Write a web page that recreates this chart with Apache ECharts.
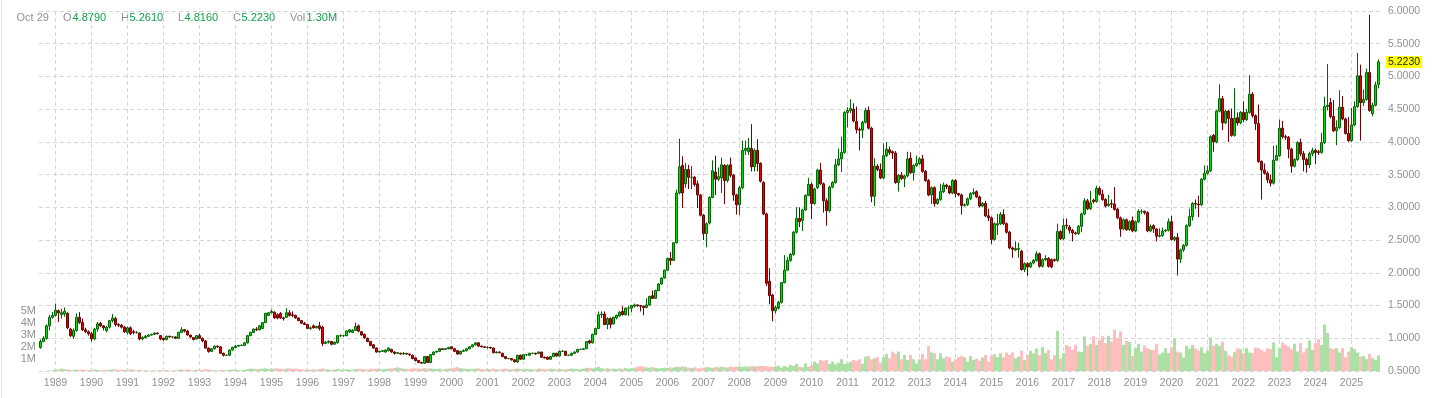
<!DOCTYPE html>
<html>
<head>
<meta charset="utf-8">
<title>Monthly candles 1988-2025</title>
<script src="https://cdn.jsdelivr.net/npm/echarts@6/dist/echarts.min.js"></script>
<style>
  html, body { margin: 0; padding: 0; background: #fff; }
  #chart { position: absolute; left: 0; top: 0; width: 1436px; height: 398px; }
  .edge { position: absolute; left: 1px; top: 0; width: 1px; height: 398px; background: #e2e3e8; }
</style>
</head>
<body>
<div id="chart"></div>
<div class="edge"></div>
<script>
// first month of the series
const firstYear = 1988;
const firstMonth = 8;
const headerDate = 'Oct 29';

// monthly candles, [open, close, low, high], Aug 1988 .. Oct 2025
const ohlc = [
  [0.86,0.95,0.84,0.98],[0.95,1.00,0.94,1.03],[1.00,1.19,0.98,1.21],[1.19,1.32,1.12,1.36],[1.32,1.35,1.30,1.40],
  // 1989
  [1.35,1.43,1.33,1.53],[1.42,1.39,1.25,1.44],[1.36,1.39,1.30,1.45],[1.37,1.41,1.33,1.47],[1.38,1.16,1.14,1.40],[1.14,1.04,1.02,1.16],
  [1.03,1.12,0.99,1.15],[1.12,1.32,1.10,1.38],[1.32,1.24,1.22,1.40],[1.24,1.13,1.11,1.30],[1.13,1.10,1.08,1.16],[1.10,1.07,1.04,1.12],
  // 1990
  [1.07,0.99,0.95,1.10],[0.99,1.14,0.97,1.16],[1.14,1.22,1.10,1.25],[1.23,1.19,1.17,1.25],[1.19,1.16,1.12,1.20],[1.12,1.17,1.09,1.19],
  [1.17,1.27,1.15,1.28],[1.27,1.31,1.24,1.37],[1.30,1.21,1.18,1.33],[1.21,1.20,1.17,1.23],[1.20,1.17,1.15,1.22],[1.17,1.10,1.08,1.19],
  // 1991
  [1.09,1.16,1.06,1.18],[1.16,1.07,1.05,1.18],[1.10,1.09,1.06,1.13],[1.09,1.09,1.07,1.11],[1.08,0.99,0.97,1.09],[0.99,1.01,0.97,1.03],
  [1.01,1.03,1.00,1.05],[1.03,1.05,1.02,1.06],[1.05,1.06,1.04,1.07],[1.06,1.08,1.05,1.09],[1.08,1.07,1.06,1.09],[1.04,0.99,0.97,1.05],
  // 1992
  [1.00,0.98,0.96,1.01],[0.98,1.03,0.97,1.04],[1.03,1.02,1.01,1.04],[1.02,1.02,1.00,1.03],[1.02,1.00,0.99,1.03],[1.00,1.09,0.99,1.10],
  [1.09,1.13,1.08,1.17],[1.13,1.11,1.09,1.14],[1.11,1.05,1.04,1.13],[1.05,1.02,1.00,1.05],[1.01,0.98,0.97,1.02],[0.99,1.04,0.98,1.05],
  // 1993
  [1.04,1.00,0.99,1.07],[1.00,0.96,0.94,1.01],[0.96,0.85,0.84,0.97],[0.85,0.80,0.78,0.86],[0.80,0.84,0.79,0.85],[0.84,0.88,0.83,0.89],
  [0.88,0.87,0.85,0.89],[0.87,0.77,0.76,0.88],[0.77,0.74,0.72,0.78],[0.74,0.74,0.73,0.75],[0.74,0.82,0.73,0.83],[0.82,0.86,0.81,0.87],
  // 1994
  [0.86,0.88,0.85,0.90],[0.88,0.89,0.87,0.90],[0.89,0.89,0.88,0.91],[0.89,0.93,0.88,0.94],[0.93,1.04,0.92,1.05],[1.04,1.09,1.03,1.10],
  [1.09,1.14,1.08,1.15],[1.14,1.13,1.11,1.17],[1.13,1.19,1.12,1.20],[1.15,1.24,1.14,1.25],[1.24,1.38,1.23,1.39],[1.35,1.39,1.34,1.40],
  // 1995
  [1.39,1.41,1.38,1.44],[1.40,1.31,1.30,1.41],[1.36,1.31,1.29,1.38],[1.38,1.31,1.30,1.40],[1.31,1.30,1.27,1.33],[1.32,1.39,1.31,1.46],
  [1.39,1.35,1.33,1.43],[1.36,1.35,1.32,1.41],[1.35,1.31,1.30,1.36],[1.31,1.27,1.26,1.32],[1.27,1.23,1.22,1.28],[1.23,1.21,1.20,1.25],
  // 1996
  [1.21,1.15,1.14,1.22],[1.15,1.16,1.13,1.18],[1.19,1.16,1.15,1.21],[1.16,1.18,1.15,1.19],[1.19,1.15,1.12,1.25],[1.17,0.92,0.88,1.19],
  [0.92,0.94,0.91,0.96],[0.94,0.95,0.92,0.97],[0.95,0.91,0.89,0.96],[0.91,0.94,0.90,0.95],[0.93,1.04,0.92,1.05],[1.04,1.04,1.02,1.06],
  // 1997
  [1.04,1.04,1.02,1.05],[1.04,1.11,1.03,1.12],[1.10,1.13,1.08,1.14],[1.09,1.12,1.08,1.14],[1.12,1.18,1.11,1.24],[1.19,1.11,1.09,1.21],
  [1.10,1.05,1.04,1.11],[1.06,1.01,0.99,1.07],[1.00,0.95,0.94,1.01],[0.95,0.89,0.88,0.96],[0.90,0.85,0.84,0.91],[0.85,0.79,0.78,0.86],
  // 1998
  [0.79,0.80,0.78,0.81],[0.80,0.81,0.79,0.82],[0.79,0.82,0.78,0.83],[0.81,0.85,0.80,0.86],[0.83,0.79,0.78,0.84],[0.79,0.77,0.75,0.80],
  [0.77,0.78,0.76,0.79],[0.77,0.76,0.75,0.78],[0.76,0.77,0.75,0.79],[0.77,0.76,0.75,0.77],[0.76,0.75,0.73,0.76],[0.74,0.69,0.68,0.75],
  // 1999
  [0.70,0.66,0.65,0.71],[0.66,0.63,0.62,0.67],[0.63,0.62,0.61,0.64],[0.62,0.72,0.61,0.73],[0.72,0.63,0.62,0.73],[0.63,0.75,0.62,0.76],
  [0.75,0.79,0.74,0.80],[0.79,0.80,0.78,0.81],[0.80,0.84,0.79,0.85],[0.84,0.83,0.82,0.85],[0.83,0.84,0.83,0.85],[0.84,0.86,0.83,0.87],
  // 2000
  [0.87,0.84,0.83,0.88],[0.84,0.80,0.79,0.85],[0.81,0.76,0.75,0.82],[0.76,0.80,0.75,0.81],[0.80,0.81,0.79,0.83],[0.81,0.84,0.80,0.85],
  [0.84,0.87,0.83,0.88],[0.87,0.90,0.86,0.91],[0.90,0.93,0.89,0.94],[0.93,0.88,0.87,0.94],[0.88,0.87,0.86,0.89],[0.87,0.86,0.85,0.88],
  // 2001
  [0.86,0.86,0.84,0.88],[0.86,0.85,0.84,0.87],[0.85,0.78,0.77,0.86],[0.78,0.79,0.77,0.80],[0.79,0.78,0.77,0.80],[0.77,0.72,0.71,0.78],
  [0.72,0.69,0.68,0.73],[0.69,0.69,0.68,0.70],[0.69,0.67,0.66,0.69],[0.67,0.64,0.63,0.68],[0.64,0.74,0.62,0.75],[0.74,0.68,0.67,0.75],
  // 2002
  [0.68,0.75,0.67,0.76],[0.75,0.75,0.73,0.76],[0.74,0.77,0.73,0.78],[0.77,0.77,0.76,0.78],[0.77,0.76,0.75,0.78],[0.77,0.79,0.76,0.80],
  [0.79,0.71,0.70,0.79],[0.71,0.70,0.69,0.72],[0.71,0.68,0.67,0.72],[0.68,0.72,0.67,0.73],[0.72,0.77,0.72,0.78],[0.77,0.73,0.72,0.78],
  // 2003
  [0.73,0.80,0.72,0.81],[0.80,0.80,0.79,0.82],[0.80,0.74,0.73,0.81],[0.74,0.74,0.73,0.75],[0.74,0.77,0.73,0.78],[0.77,0.79,0.76,0.80],
  [0.79,0.83,0.78,0.84],[0.83,0.83,0.82,0.84],[0.83,0.84,0.82,0.85],[0.84,0.95,0.84,0.96],[0.96,0.93,0.91,0.98],[0.93,1.06,0.92,1.07],
  // 2004
  [1.06,1.15,1.05,1.16],[1.15,1.36,1.14,1.41],[1.36,1.37,1.31,1.41],[1.37,1.21,1.20,1.41],[1.21,1.30,1.14,1.32],[1.30,1.21,1.15,1.32],
  [1.22,1.32,1.21,1.33],[1.31,1.35,1.29,1.36],[1.34,1.40,1.33,1.41],[1.41,1.36,1.35,1.49],[1.36,1.46,1.35,1.47],[1.46,1.46,1.34,1.49],
  // 2005
  [1.46,1.50,1.40,1.51],[1.49,1.51,1.47,1.53],[1.51,1.50,1.48,1.52],[1.50,1.49,1.41,1.51],[1.49,1.47,1.35,1.50],[1.47,1.51,1.46,1.61],
  [1.51,1.64,1.50,1.65],[1.65,1.61,1.60,1.73],[1.61,1.73,1.60,1.74],[1.73,1.83,1.72,1.84],[1.83,1.92,1.82,1.93],[1.92,2.04,1.91,2.05],
  // 2006
  [2.04,2.22,2.03,2.23],[2.22,2.19,2.12,2.32],[2.19,2.46,2.18,2.47],[2.46,3.22,2.45,3.27],[3.22,3.62,3.20,4.05],[3.64,3.22,2.99,3.78],
  [3.36,3.58,3.30,3.68],[3.58,3.46,3.28,3.65],[3.46,3.46,3.28,3.63],[3.46,3.35,3.32,3.48],[3.36,3.19,2.99,3.41],[3.19,2.88,2.86,3.20],
  // 2007
  [2.88,2.60,2.50,2.90],[2.60,2.75,2.39,2.77],[2.76,3.15,2.74,3.17],[3.15,3.56,3.14,3.72],[3.54,3.43,3.19,3.79],[3.43,3.47,3.40,3.61],
  [3.45,3.65,3.22,3.76],[3.64,3.41,3.05,3.66],[3.41,3.64,3.38,3.66],[3.65,3.49,3.46,3.76],[3.49,3.19,3.10,3.51],[3.19,3.04,2.89,3.21],
  // 2008
  [3.04,3.30,2.88,3.33],[3.30,3.87,3.28,4.02],[3.87,3.90,3.80,4.02],[3.85,3.91,3.80,4.06],[3.90,3.62,3.55,4.27],[3.62,3.87,3.55,3.90],
  [3.87,3.67,3.55,4.04],[3.67,3.40,3.38,3.69],[3.38,2.90,2.88,3.40],[2.90,1.84,1.80,2.92],[1.87,1.65,1.52,2.07],[1.66,1.42,1.26,1.68],
  // 2009
  [1.42,1.47,1.38,1.50],[1.46,1.55,1.44,1.57],[1.55,1.85,1.53,1.86],[1.85,2.04,1.84,2.27],[2.04,2.19,2.03,2.24],[2.19,2.28,2.17,2.30],
  [2.28,2.62,2.26,2.64],[2.62,2.83,2.60,3.00],[2.83,2.78,2.70,3.00],[2.80,2.96,2.64,2.98],[2.96,3.18,2.95,3.20],[3.18,3.35,3.17,3.45],
  // 2010
  [3.35,3.06,2.82,3.38],[3.06,3.28,3.04,3.30],[3.30,3.57,3.28,3.59],[3.57,3.36,3.34,3.68],[3.36,3.10,2.92,3.38],[3.10,2.95,2.72,3.14],
  [2.95,3.31,2.92,3.33],[3.31,3.38,3.29,3.40],[3.38,3.65,3.36,3.74],[3.65,3.74,3.63,3.90],[3.74,3.84,3.54,4.08],[3.84,4.45,3.82,4.47],
  // 2011
  [4.45,4.48,4.22,4.53],[4.48,4.51,4.44,4.65],[4.50,4.32,4.30,4.59],[4.31,4.19,4.13,4.54],[4.19,4.18,3.87,4.22],[4.18,4.30,4.06,4.32],
  [4.30,4.48,4.28,4.52],[4.48,4.21,4.19,4.54],[4.21,3.17,3.08,4.23],[3.17,3.63,3.02,3.75],[3.63,3.58,3.55,3.66],[3.58,3.45,3.43,3.67],
  // 2012
  [3.45,3.79,3.43,3.98],[3.79,3.89,3.77,4.00],[3.88,3.84,3.80,3.93],[3.85,3.83,3.74,3.87],[3.83,3.38,3.36,3.86],[3.38,3.49,3.24,3.51],
  [3.49,3.44,3.42,3.54],[3.44,3.48,3.31,3.50],[3.48,3.74,3.46,3.85],[3.75,3.53,3.51,3.84],[3.53,3.64,3.41,3.66],[3.64,3.67,3.62,3.79],
  // 2013
  [3.67,3.74,3.65,3.77],[3.74,3.55,3.53,3.80],[3.55,3.41,3.39,3.57],[3.41,3.19,3.17,3.43],[3.19,3.30,3.05,3.32],[3.30,3.06,3.01,3.32],
  [3.06,3.12,3.04,3.14],[3.12,3.24,3.10,3.36],[3.24,3.34,3.22,3.38],[3.34,3.32,3.28,3.36],[3.32,3.22,3.20,3.34],[3.22,3.41,3.20,3.43],
  // 2014
  [3.41,3.21,3.15,3.43],[3.21,3.19,3.17,3.22],[3.19,3.03,2.89,3.21],[3.03,3.04,3.01,3.06],[3.04,3.13,3.02,3.15],[3.13,3.21,3.11,3.23],
  [3.21,3.23,3.19,3.29],[3.24,3.16,3.14,3.26],[3.16,3.02,3.00,3.18],[3.02,3.06,3.00,3.08],[3.06,2.87,2.85,3.10],[2.87,2.84,2.79,2.98],
  // 2015
  [2.84,2.51,2.44,2.86],[2.51,2.75,2.49,2.77],[2.73,2.75,2.58,2.90],[2.75,2.89,2.73,2.93],[2.89,2.75,2.73,2.97],[2.75,2.62,2.60,2.77],
  [2.62,2.38,2.36,2.64],[2.38,2.36,2.23,2.40],[2.35,2.37,2.33,2.48],[2.36,2.37,2.23,2.46],[2.33,2.05,2.03,2.35],[2.05,2.14,2.01,2.16],
  // 2016
  [2.14,2.09,1.95,2.16],[2.09,2.15,2.07,2.17],[2.15,2.19,2.13,2.21],[2.19,2.29,2.17,2.33],[2.29,2.10,2.08,2.31],[2.10,2.20,2.08,2.22],
  [2.20,2.22,2.18,2.27],[2.22,2.10,2.08,2.24],[2.20,2.09,2.07,2.22],[2.20,2.19,2.17,2.22],[2.19,2.63,2.17,2.75],[2.63,2.52,2.50,2.65],
  // 2017
  [2.52,2.72,2.50,2.83],[2.73,2.72,2.67,2.83],[2.70,2.65,2.60,2.73],[2.65,2.61,2.48,2.67],[2.61,2.60,2.58,2.63],[2.60,2.71,2.58,2.73],
  [2.71,2.90,2.62,2.92],[2.90,3.10,2.88,3.14],[3.10,2.98,2.96,3.13],[2.98,3.07,2.96,3.25],[3.11,3.09,3.06,3.13],[3.09,3.29,3.07,3.33],
  // 2018
  [3.29,3.20,3.18,3.32],[3.20,3.12,3.10,3.27],[3.12,3.02,3.00,3.14],[3.03,3.05,3.01,3.19],[3.06,3.05,2.99,3.12],[3.05,2.97,2.95,3.31],
  [2.97,2.84,2.82,2.99],[2.84,2.67,2.55,2.86],[2.67,2.81,2.65,2.83],[2.81,2.66,2.64,2.83],[2.66,2.78,2.64,2.80],[2.80,2.64,2.62,2.86],
  // 2019
  [2.64,2.78,2.62,2.80],[2.78,2.94,2.76,2.97],[2.94,2.94,2.90,2.97],[2.94,2.92,2.89,2.95],[2.92,2.64,2.62,2.94],[2.64,2.71,2.62,2.74],
  [2.72,2.67,2.61,2.74],[2.67,2.56,2.48,2.68],[2.56,2.57,2.54,2.68],[2.57,2.64,2.55,2.69],[2.64,2.65,2.62,2.67],[2.65,2.78,2.63,2.83],
  // 2020
  [2.78,2.51,2.49,2.87],[2.51,2.54,2.48,2.56],[2.54,2.21,1.96,2.61],[2.21,2.35,2.15,2.37],[2.35,2.42,2.32,2.44],[2.42,2.72,2.40,2.74],
  [2.72,2.86,2.70,2.98],[2.86,3.06,2.80,3.08],[3.06,3.05,2.98,3.12],[3.05,3.04,2.85,3.18],[3.04,3.43,3.02,3.45],[3.43,3.52,3.41,3.64],
  // 2021
  [3.52,3.56,3.50,3.64],[3.56,4.08,3.54,4.10],[4.10,4.00,3.85,4.12],[4.00,4.47,3.98,4.49],[4.47,4.66,4.45,4.88],[4.66,4.29,4.18,4.70],
  [4.29,4.47,4.27,4.49],[4.47,4.36,4.00,4.49],[4.36,4.10,4.08,4.51],[4.10,4.36,4.08,4.82],[4.37,4.29,4.25,4.45],[4.29,4.45,4.27,4.47],
  // 2022
  [4.45,4.34,4.30,4.62],[4.34,4.45,4.32,4.50],[4.45,4.73,4.43,5.02],[4.73,4.40,4.37,4.76],[4.40,4.28,4.18,4.42],[4.28,3.70,3.68,4.57],
  [3.70,3.57,3.12,3.72],[3.57,3.52,3.50,3.67],[3.52,3.42,3.37,3.55],[3.42,3.37,3.32,3.50],[3.37,3.72,3.35,3.94],[3.72,3.79,3.72,3.95],
  // 2023
  [3.79,4.21,3.77,4.34],[4.21,4.08,4.05,4.32],[4.08,4.07,4.03,4.11],[4.07,3.89,3.75,4.09],[3.89,3.63,3.53,3.91],[3.63,3.73,3.61,3.75],
  [3.73,3.99,3.71,4.01],[3.99,3.82,3.78,4.05],[3.82,3.73,3.55,3.86],[3.73,3.65,3.53,3.76],[3.65,3.82,3.60,3.85],[3.82,3.87,3.78,3.91],
  // 2024
  [3.87,3.84,3.66,3.90],[3.85,3.84,3.80,3.88],[3.84,3.99,3.82,4.14],[3.99,4.54,3.97,4.69],[4.54,4.56,4.48,5.19],[4.60,4.39,4.36,4.67],
  [4.39,4.17,4.15,4.64],[4.17,4.22,3.95,4.33],[4.22,4.53,4.20,4.79],[4.53,4.35,4.33,4.70],[4.35,4.13,4.11,4.37],[4.13,4.02,4.00,4.38],
  // 2025
  [4.02,4.26,4.00,4.52],[4.26,4.54,4.24,4.62],[4.54,5.01,4.52,5.36],[5.01,4.60,4.02,5.18],[4.60,4.65,4.55,4.80],[4.65,5.06,4.63,5.12],
  [5.06,4.48,4.46,5.94],[4.43,4.56,4.39,4.60],[4.56,4.87,4.54,4.92],[4.879,5.223,4.816,5.261]
];

// monthly volume, millions
const volume = [
  0,0,0,0.04,0.06,
  0.12,0.15,0.2,0.14,0.12,0.1,0.08,0.1,0.12,0.1,0.08,0.07,
  0.1,0.12,0.1,0.08,0.06,0.08,0.1,0.12,0.14,0.1,0.12,0.1,
  0.1,0.14,0.1,0.06,0.08,0.05,0.05,0.04,0.04,0.05,0.06,0.08,
  0.06,0.08,0.05,0.04,0.06,0.1,0.12,0.1,0.14,0.08,0.06,0.1,
  0.12,0.1,0.15,0.12,0.08,0.06,0.05,0.1,0.08,0.06,0.1,0.12,
  0.1,0.08,0.06,0.1,0.15,0.2,0.18,0.15,0.18,0.2,0.22,0.16,
  0.18,0.2,0.22,0.18,0.15,0.2,0.22,0.18,0.2,0.16,0.14,0.12,
  0.12,0.1,0.14,0.1,0.16,0.22,0.14,0.12,0.1,0.12,0.18,0.12,
  0.1,0.14,0.12,0.1,0.16,0.18,0.16,0.14,0.12,0.18,0.16,0.2,
  0.18,0.14,0.16,0.2,0.22,0.26,0.3,0.24,0.2,0.18,0.16,0.22,
  0.2,0.22,0.18,0.24,0.2,0.22,0.18,0.16,0.2,0.14,0.16,0.2,
  0.22,0.28,0.32,0.24,0.2,0.18,0.16,0.18,0.2,0.22,0.16,0.14,
  0.18,0.16,0.2,0.14,0.12,0.16,0.2,0.14,0.12,0.18,0.2,0.16,
  0.14,0.18,0.16,0.12,0.14,0.2,0.18,0.14,0.16,0.2,0.18,0.14,
  0.16,0.12,0.14,0.16,0.2,0.18,0.16,0.14,0.2,0.28,0.24,0.22,
  0.3,0.36,0.24,0.2,0.22,0.18,0.2,0.16,0.22,0.18,0.24,0.2,
  0.22,0.28,0.36,0.4,0.38,0.3,0.28,0.32,0.26,0.22,0.24,0.28,
  0.26,0.3,0.28,0.36,0.32,0.4,0.34,0.28,0.26,0.3,0.24,0.22,
  0.28,0.32,0.3,0.26,0.34,0.3,0.36,0.32,0.3,0.38,0.34,0.36,
  0.4,0.34,0.38,0.36,0.42,0.38,0.4,0.44,0.42,0.4,0.36,0.34,
  0.4,0.44,0.3,0.42,0.31,0.5,0.42,0.59,0.36,0.31,0.64,0.35,
  0.5,0.78,0.64,0.92,0.84,0.92,0.59,0.78,0.56,0.7,0.98,0.59,
  0.64,0.78,0.92,0.84,0.98,0.59,1.2,1.26,0.98,1.06,1.15,0.7,
  1.15,1.43,1.06,1.62,1.43,1.62,0.98,1.34,0.92,1.34,0.98,0.64,
  0.98,1.43,0.98,2.1,1.54,1.48,0.98,1.48,1.06,1.2,1.15,0.78,
  0.98,1.15,1.26,1.15,0.76,1.26,0.92,1.04,0.87,1.12,1.34,0.78,
  1.29,1.4,1.15,1.48,1.15,1.54,1.34,1.54,1.06,1.2,1.68,0.92,
  1.34,1.68,1.48,1.88,1.32,1.99,1.48,1.76,0.98,1.32,3.36,1.04,
  1.48,2.18,2.04,1.76,2.18,1.62,1.6,2.89,2.1,2.27,2.89,2.18,
  2.6,2.89,2.32,2.94,2.46,3.45,2.75,3.3,2.18,2.52,2.41,1.26,
  1.9,2.27,1.62,2.13,1.9,1.76,1.76,2.27,1.4,1.54,1.9,1.48,
  1.99,2.69,1.62,1.54,1.12,2.1,1.88,2.16,1.88,1.71,1.99,1.48,
  1.71,2.8,2.1,2.27,2.1,2.44,1.71,1.32,1.2,1.57,1.88,1.82,
  1.48,1.9,1.54,1.48,1.96,1.9,1.76,1.62,1.9,1.82,2.38,1.15,
  1.9,2.38,2.18,2.04,1.82,2.27,1.62,2.32,1.54,1.9,2.55,1.76,
  2.32,2.66,2.18,3.87,3.17,1.9,1.82,1.9,1.54,1.9,1.15,1.62,
  1.99,1.82,1.54,1.2,1.26,0.98,1.43,1.06,0.92,1.30
];

const volumeLabels = [1, 2, 3, 4, 5];

// month categories, 'YYYY-MM'
const months = [];
for (let i = 0; i < ohlc.length; i++) {
  const m = firstMonth - 1 + i;
  const y = firstYear + Math.floor(m / 12);
  months.push(y + '-' + String(m % 12 + 1).padStart(2, '0'));
}
const isJan = (i, v) => v.slice(5) === '01';

const gray = '#8e9196';
const green = '#139f45';
const last = ohlc[ohlc.length - 1];
const lastVol = volume[volume.length - 1];

const volumeData = volume.map((v, i) => ({
  value: v,
  itemStyle: { color: ohlc[i][1] >= ohlc[i][0] ? '#ace0a5' : '#ffbfbf' }
}));

// header: label / value pairs
const headerParts = [
  { x: 16.5, text: headerDate, color: gray },
  { x: 63, text: 'O', color: gray }, { x: 72.5, text: last[0].toFixed(4), color: green },
  { x: 121, text: 'H', color: gray }, { x: 129.5, text: last[3].toFixed(4), color: green },
  { x: 178, text: 'L', color: gray }, { x: 184.5, text: last[2].toFixed(4), color: green },
  { x: 233, text: 'C', color: gray }, { x: 241.5, text: last[1].toFixed(4), color: green },
  { x: 290, text: 'Vol', color: gray }, { x: 306.5, text: lastVol.toFixed(2) + 'M', color: green }
];

const chart = echarts.init(document.getElementById('chart'));
chart.setOption({
  animation: false,
  backgroundColor: '#fff',
  grid: { left: 39, right: 56, top: 11, bottom: 27 },
  graphic: headerParts.map(p => ({
    type: 'text',
    x: p.x,
    y: 18,
    silent: true,
    style: { text: p.text, fill: p.color, font: '11px Arial', verticalAlign: 'middle' }
  })),
  xAxis: {
    type: 'category',
    data: months,
    boundaryGap: true,
    axisLine: { show: false },
    axisTick: { show: false },
    axisLabel: {
      interval: isJan,
      formatter: v => v.slice(0, 4),
      color: gray,
      fontFamily: 'Arial',
      fontSize: 10.5,
      margin: 7
    },
    splitLine: {
      show: true,
      interval: isJan,
      alignWithLabel: true,
      lineStyle: { color: '#d5d5d5', type: [4, 3], width: 1 }
    }
  },
  yAxis: [
    {
      type: 'value',
      position: 'right',
      min: 0.5,
      max: 6,
      interval: 0.5,
      axisLine: { show: false },
      axisTick: { show: false },
      axisLabel: {
        formatter: v => v.toFixed(4),
        color: gray,
        fontFamily: 'Arial',
        fontSize: 10.5,
        margin: 8
      },
      splitLine: { lineStyle: { color: '#d5d5d5', type: [4, 3], width: 1 } }
    },
    {
      type: 'value',
      position: 'left',
      min: 0,
      max: 30,
      interval: 1,
      axisLine: { show: false },
      axisTick: { show: false },
      splitLine: { show: false },
      axisLabel: {
        formatter: v => volumeLabels.indexOf(v) >= 0 ? v + 'M' : '',
        color: gray,
        fontFamily: 'Arial',
        fontSize: 11,
        margin: 3
      }
    }
  ],
  series: [
    {
      name: 'Vol',
      type: 'bar',
      yAxisIndex: 1,
      data: volumeData,
      barCategoryGap: '0%',
      silent: true,
      z: 1
    },
    {
      name: 'Price',
      type: 'candlestick',
      yAxisIndex: 0,
      data: ohlc,
      barWidth: 2.4,
      silent: true,
      z: 2,
      itemStyle: {
        color: '#00dc00',
        color0: '#e00000',
        borderColor: '#006400',
        borderColor0: '#6a0000',
        borderWidth: 1
      },
      markLine: {
        silent: true,
        symbol: ['none', 'none'],
        lineStyle: { color: 'rgba(0,0,0,0)', width: 0 },
        label: {
          show: true,
          position: 'end',
          distance: 6,
          formatter: () => last[1].toFixed(4),
          backgroundColor: '#ffff00',
          color: '#222',
          fontFamily: 'Arial',
          fontSize: 10.5,
          padding: [1, 2, 0, 2]
        },
        data: [{ yAxis: last[1] }]
      }
    }
  ]
});
</script>
</body>
</html>
